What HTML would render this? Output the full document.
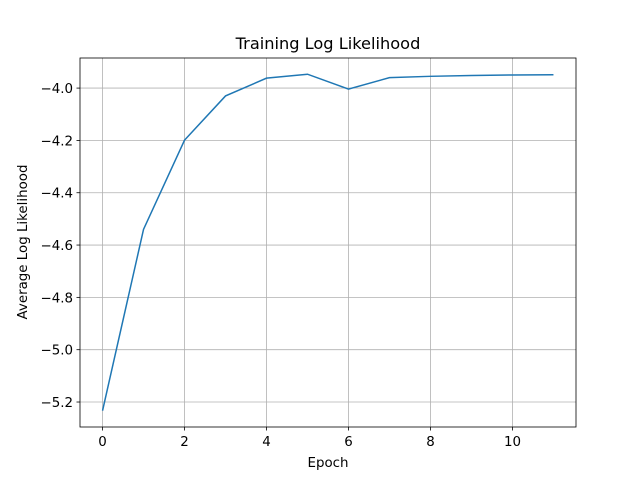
<!DOCTYPE html>
<html><head><meta charset="utf-8"><style>
body{margin:0;background:#fff;}
text{font-family:"DejaVu Sans","Liberation Sans",sans-serif;fill:#000;}
</style></head><body>
<svg id="chart" width="640" height="480" xmlns="http://www.w3.org/2000/svg">
<rect width="640" height="480" fill="#fff"/>
<g id="grid"></g>
<g id="ticks"></g>
<polyline id="line" fill="none" stroke="#1f77b4" stroke-width="1.5"/>
<rect x="80" y="58" width="496" height="369" fill="none" stroke="#000" stroke-width="0.8"/>
<text x="328" y="49" font-size="16.2" text-anchor="middle">Training Log Likelihood</text>
<text x="328" y="467" font-size="13.4" text-anchor="middle">Epoch</text>
<text transform="translate(27,242) rotate(-90)" font-size="13.4" text-anchor="middle">Average Log Likelihood</text>
</svg>
<script>
const epochs=[0,1,2,3,4,5,6,7,8,9,10,11];
const values=[-5.233,-4.54,-4.199,-4.03,-3.962,-3.947,-4.004,-3.96,-3.955,-3.952,-3.950,-3.949];
const xTicks=[0,2,4,6,8,10];
const yTicks=[-4.0,-4.2,-4.4,-4.6,-4.8,-5.0,-5.2];
const L=80,R=576,T=58,B=427;
const x0=-0.55,x1=11.55,y0=-5.2955,y1=-3.885;
const sx=v=>L+(v-x0)/(x1-x0)*(R-L);
const sy=v=>B-(v-y0)/(y1-y0)*(B-T);
const ns="http://www.w3.org/2000/svg";
const grid=document.getElementById('grid'),ticks=document.getElementById('ticks');
function mk(tag,attrs,parent){const e=document.createElementNS(ns,tag);for(const k in attrs)e.setAttribute(k,attrs[k]);parent.appendChild(e);return e;}
xTicks.forEach(t=>{const x=sx(t);
const g=mk('line',{x1:x,x2:x,y1:T,y2:B,stroke:'#b0b0b0','stroke-width':0.8},grid);


mk('line',{x1:x,x2:x,y1:B,y2:B+3.5,stroke:'#000','stroke-width':0.8},ticks);
const tx=mk('text',{x:x,y:B+19,'font-size':13.4,'text-anchor':'middle'},ticks);tx.textContent=String(t);

});
yTicks.forEach(t=>{const y=sy(t);
const g=mk('line',{x1:L,x2:R,y1:y,y2:y,stroke:'#b0b0b0','stroke-width':0.8},grid);


mk('line',{x1:L-3.5,x2:L,y1:y,y2:y,stroke:'#000','stroke-width':0.8},ticks);
const tx=mk('text',{x:L-7,y:y+5,'font-size':13.4,'text-anchor':'end'},ticks);tx.textContent=t.toFixed(1).replace('-','\u2212');

});
document.getElementById('line').setAttribute('points',epochs.map((e,i)=>sx(e)+','+sy(values[i])).join(' '));
</script>
</body></html>
